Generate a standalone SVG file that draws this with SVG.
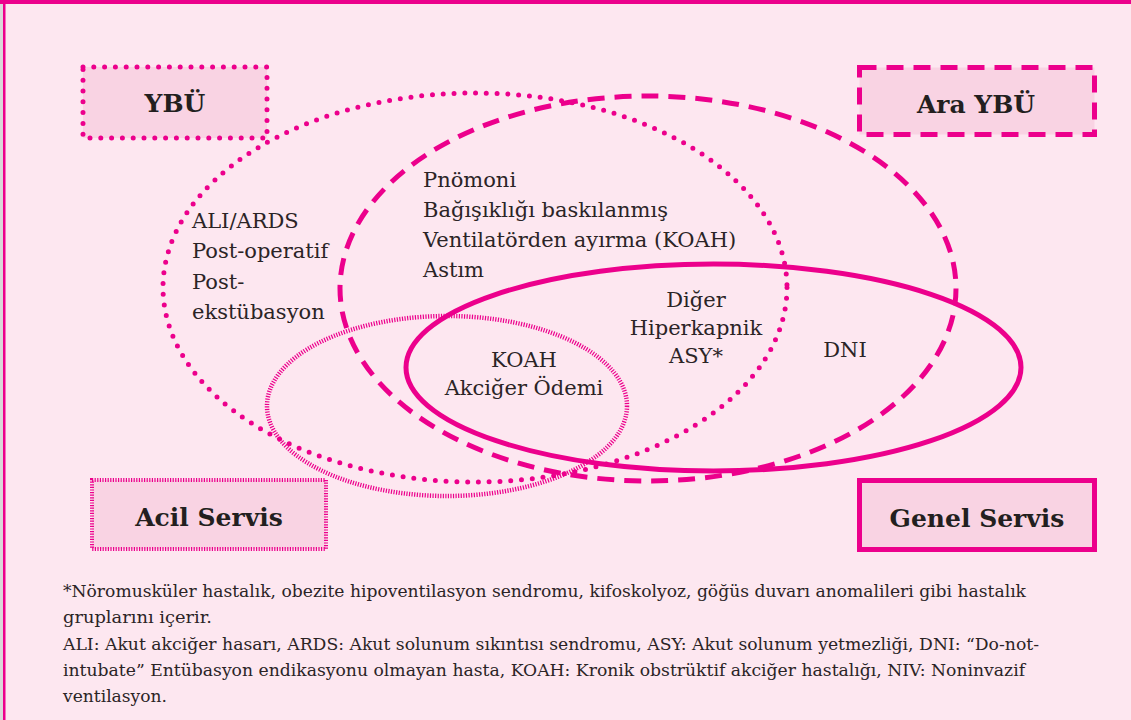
<svg xmlns="http://www.w3.org/2000/svg" width="1131" height="720" viewBox="0 0 1131 720">
<defs>
<style>
.bg{fill:#fde7f0}
.mg{fill:none;stroke:#ec008c}
.dot{stroke-width:5;stroke-linecap:round;stroke-dasharray:0 10.8}
.dash{stroke-width:5;stroke-dasharray:17 10}
.hatch{stroke-width:4.5;stroke-dasharray:1.2 1.4}
.solid{stroke-width:5}
.box{fill:#f9d3e3;stroke:#ec008c}
.t{font-family:"DejaVu Serif","Liberation Serif",serif;font-size:21px;fill:#2b2426}
.b{font-family:"DejaVu Serif","Liberation Serif",serif;font-size:25px;font-weight:bold;fill:#231f20;text-anchor:middle}
.f{font-family:"DejaVu Serif","Liberation Serif",serif;font-size:17px;fill:#2b2426}
.c{text-anchor:middle}
</style>
</defs>
<rect class="bg" x="0" y="0" width="1131" height="720"/>
<rect x="0" y="0" width="3" height="720" fill="#d9d9d9"/>
<rect x="3" y="0" width="2.5" height="720" fill="#ec008c"/>
<rect x="0" y="0" width="1131" height="4" fill="#ec008c"/>

<g id="ellipses">
<ellipse id="ybu-set" class="mg dot" cx="475" cy="287.5" rx="312" ry="194.5"/>
<ellipse id="arayb-set" class="mg dash" cx="648" cy="288.5" rx="308" ry="192.5"/>
<ellipse id="acil-set" class="mg hatch" cx="447" cy="406" rx="180" ry="90"/>
<ellipse id="genel-set" class="mg solid" cx="713.5" cy="367.5" rx="307.5" ry="103.5"/>
</g>

<g id="node-ybu">
<rect class="box dot" x="83" y="67" width="184" height="71"/>
<text class="b" x="175" y="112">YBÜ</text>
</g>
<g id="node-arayb">
<rect class="box dash" x="859.5" y="67.5" width="235" height="67"/>
<text class="b" x="976" y="113">Ara YBÜ</text>
</g>
<g id="node-acil">
<rect class="box hatch" style="stroke-width:4" x="92" y="480" width="234" height="69"/>
<text class="b" x="209" y="526">Acil Servis</text>
</g>
<g id="node-genel">
<rect class="box solid" x="859.5" y="480.5" width="235" height="69"/>
<text class="b" x="977" y="527">Genel Servis</text>
</g>

<g id="labels">
<text class="t" x="192" y="228">ALI/ARDS</text>
<text class="t" x="192" y="258">Post-operatif</text>
<text class="t" x="192" y="289">Post-</text>
<text class="t" x="192" y="319">ekstübasyon</text>

<text class="t" x="423" y="187">Pnömoni</text>
<text class="t" x="423" y="217">Bağışıklığı baskılanmış</text>
<text class="t" x="423" y="247">Ventilatörden ayırma (KOAH)</text>
<text class="t" x="423" y="277">Astım</text>

<text class="t c" x="696" y="307">Diğer</text>
<text class="t c" x="696" y="335">Hiperkapnik</text>
<text class="t c" x="696" y="363">ASY*</text>

<text class="t c" x="524" y="367">KOAH</text>
<text class="t c" x="524" y="395">Akciğer Ödemi</text>

<text class="t c" x="845" y="357">DNI</text>
</g>

<g id="footnote">
<text class="f" x="63" y="597" textLength="963" lengthAdjust="spacingAndGlyphs">*Nöromusküler hastalık, obezite hipoventilasyon sendromu, kifoskolyoz, göğüs duvarı anomalileri gibi hastalık</text>
<text class="f" x="63" y="623" textLength="149" lengthAdjust="spacingAndGlyphs">gruplarını içerir.</text>
<text class="f" x="63" y="650" textLength="976" lengthAdjust="spacingAndGlyphs">ALI: Akut akciğer hasarı, ARDS: Akut solunum sıkıntısı sendromu, ASY: Akut solunum yetmezliği, DNI: “Do-not-</text>
<text class="f" x="63" y="676" textLength="962" lengthAdjust="spacingAndGlyphs">intubate” Entübasyon endikasyonu olmayan hasta, KOAH: Kronik obstrüktif akciğer hastalığı, NIV: Noninvazif</text>
<text class="f" x="63" y="702" textLength="104" lengthAdjust="spacingAndGlyphs">ventilasyon.</text>
</g>
</svg>
